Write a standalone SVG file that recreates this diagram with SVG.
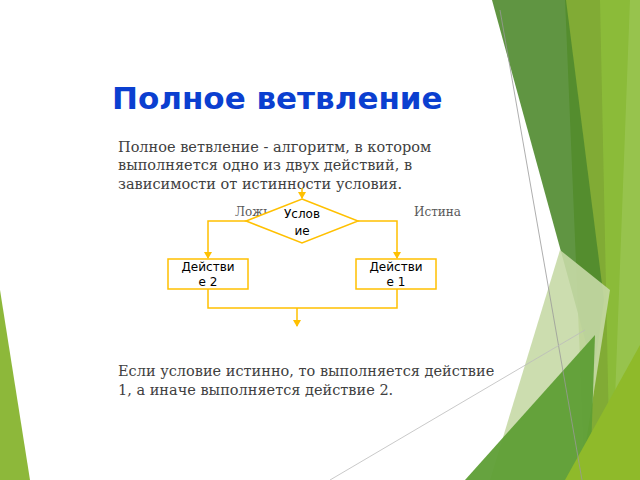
<svg xmlns="http://www.w3.org/2000/svg" width="640" height="480" viewBox="0 0 640 480">
<defs>
<style>
.body{font-family:"DejaVu Serif","Liberation Serif",serif;font-size:14.5px;fill:#404040}
.lbl{font-family:"DejaVu Serif","Liberation Serif",serif;font-size:12px;fill:#595959}
.node{font-family:"DejaVu Sans","Noto Sans",sans-serif;font-size:12px;fill:#000;text-anchor:middle}
.fl{fill:#fff;stroke:#FFC000;stroke-width:1.5}
.ln{fill:none;stroke:#FFC000;stroke-width:1.5}
</style>
<marker id="ar" markerWidth="8" markerHeight="8" refX="6" refY="4" orient="auto" markerUnits="userSpaceOnUse"><path d="M0,0 L7,4 L0,8 z" fill="#FFC000"/></marker>
</defs>
<rect width="640" height="480" fill="#fff"/>
<g id="decor">
<polygon points="0,290 30,480 0,480" fill="#8DB83A"/>
<polygon points="565,0 630,0 612,480 585,480" fill="#7AA62A" opacity="0.95"/>
<polygon points="600,0 640,0 640,480 610,480" fill="#8CBC3A" opacity="0.9"/>
<polygon points="492,0 566,0 604,300 594,372" fill="#4F8A2E" opacity="0.9"/>
<polygon points="560,250 610,290 580,480 490,480" fill="#C6D9A6" opacity="0.9"/>
<polygon points="465,480 595,335 590,480" fill="#5E9E35" opacity="0.95"/>
<polygon points="565,480 640,345 640,480" fill="#8FBA2A"/>
<line x1="500" y1="10" x2="582" y2="480" stroke="#999" stroke-width="0.8"/>
<line x1="330" y1="480" x2="585" y2="330" stroke="#bbb" stroke-width="0.8"/>
</g>
<text x="112" y="109" font-family="'DejaVu Sans','Noto Sans',sans-serif" font-weight="bold" font-size="31" fill="#0B3FD0">Полное ветвление</text>
<text class="body"><tspan x="118" y="152">Полное ветвление - алгоритм, в котором</tspan><tspan x="118" y="170">выполняется одно из двух действий, в</tspan><tspan x="118" y="189">зависимости от истинности условия.</tspan></text>
<text class="lbl" x="235" y="216">Ложь</text>
<text class="lbl" x="414" y="216">Истина</text>
<g id="connectors">
<line class="ln" x1="302" y1="188" x2="302" y2="198" marker-end="url(#ar)"/>
<polyline class="ln" points="246,221 208,221 208,258" marker-end="url(#ar)"/>
<polyline class="ln" points="358,221 397,221 397,258" marker-end="url(#ar)"/>
<polyline class="ln" points="208,289 208,308 397,308 397,289"/>
<line class="ln" x1="297" y1="308" x2="297" y2="326" marker-end="url(#ar)"/>
</g>
<g id="cond"><polygon class="fl" points="302,199 358,221 302,243 246,221"/><text class="node" x="302" y="218">Услов</text><text class="node" x="302" y="235">ие</text></g>
<g id="act2"><rect class="fl" x="168" y="259" width="80" height="30"/><text class="node" x="208" y="271">Действи</text><text class="node" x="208" y="286">е 2</text></g>
<g id="act1"><rect class="fl" x="356" y="259" width="80" height="30"/><text class="node" x="396" y="271">Действи</text><text class="node" x="396" y="286">е 1</text></g>
<text class="body"><tspan x="118" y="376">Если условие истинно, то выполняется действие</tspan><tspan x="118" y="395">1, а иначе выполняется действие 2.</tspan></text>
</svg>
